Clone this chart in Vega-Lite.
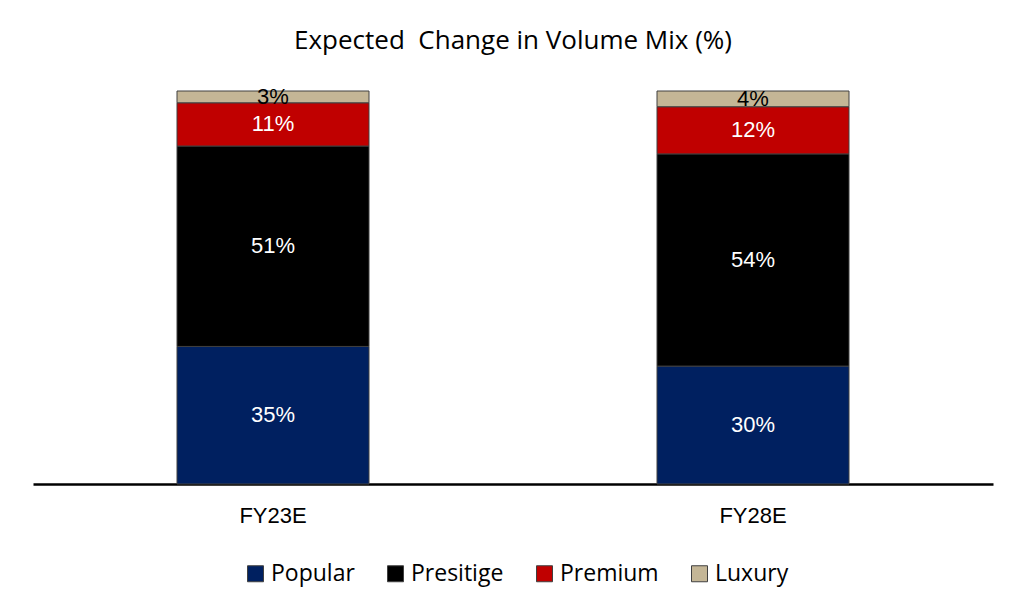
{
  "$schema": "https://vega.github.io/schema/vega-lite/v6.json",
  "width": 960,
  "height": 393,
  "autosize": "none",
  "padding": {"left": 33, "top": 91, "right": 31, "bottom": 130},
  "background": "white",
  "config": {"view": {"stroke": null}},
  "title": {
    "text": "Expected\u00a0 Change in Volume Mix (%)",
    "anchor": "middle",
    "fontSize": 26,
    "fontWeight": "normal",
    "font": "Open Sans",
    "color": "#000000",
    "offset": 32
  },
  "data": {
    "values": [
      {"year": "FY23E", "cat": "Popular", "idx": 1, "value": 35, "label": "35%"},
      {"year": "FY23E", "cat": "Presitige", "idx": 2, "value": 51, "label": "51%"},
      {"year": "FY23E", "cat": "Premium", "idx": 3, "value": 11, "label": "11%"},
      {"year": "FY23E", "cat": "Luxury", "idx": 4, "value": 3, "label": "3%"},
      {"year": "FY28E", "cat": "Popular", "idx": 1, "value": 30, "label": "30%"},
      {"year": "FY28E", "cat": "Presitige", "idx": 2, "value": 54, "label": "54%"},
      {"year": "FY28E", "cat": "Premium", "idx": 3, "value": 12, "label": "12%"},
      {"year": "FY28E", "cat": "Luxury", "idx": 4, "value": 4, "label": "4%"}
    ]
  },
  "transform": [
    {"stack": "value", "groupby": ["year"], "sort": [{"field": "idx", "order": "ascending"}], "as": ["y0", "y1"]},
    {"calculate": "(datum.y0 + datum.y1) / 2", "as": "ymid"}
  ],
  "encoding": {
    "x": {
      "field": "year",
      "type": "nominal",
      "scale": {"paddingInner": 0.6, "paddingOuter": 0.3},
      "axis": {
        "title": null,
        "labelAngle": 0,
        "labelFontSize": 22,
        "labelFont": "Liberation Sans",
        "labelColor": "#000000",
        "labelPadding": 21,
        "ticks": false,
        "domainColor": "#000000",
        "domainWidth": 2.5,
        "grid": false
      }
    }
  },
  "layer": [
    {
      "mark": {"type": "bar", "stroke": "#404040", "strokeWidth": 1},
      "encoding": {
        "y": {"field": "y0", "type": "quantitative", "scale": {"domain": [0, 100]}, "axis": null},
        "y2": {"field": "y1"},
        "color": {
          "field": "cat",
          "type": "nominal",
          "scale": {
            "domain": ["Popular", "Presitige", "Premium", "Luxury"],
            "range": ["#002060", "#000000", "#C00000", "#C4B696"]
          },
          "legend": {
            "title": null,
            "orient": "none",
            "direction": "horizontal",
            "legendX": 211,
            "legendY": 471,
            "symbolType": "square",
            "symbolSize": 256,
            "symbolStrokeColor": "#404040",
            "symbolStrokeWidth": 1,
            "labelFontSize": 23,
            "labelFont": "Open Sans",
            "labelColor": "#000000",
            "labelOffset": 4,
            "columnPadding": 29
          }
        }
      }
    },
    {
      "mark": {"type": "text", "fontSize": 22, "font": "Liberation Sans", "baseline": "middle"},
      "encoding": {
        "y": {"field": "ymid", "type": "quantitative"},
        "text": {"field": "label", "type": "nominal"},
        "color": {
          "condition": {"test": "datum.cat === 'Luxury'", "value": "#000000"},
          "value": "#FFFFFF"
        }
      }
    }
  ]
}
